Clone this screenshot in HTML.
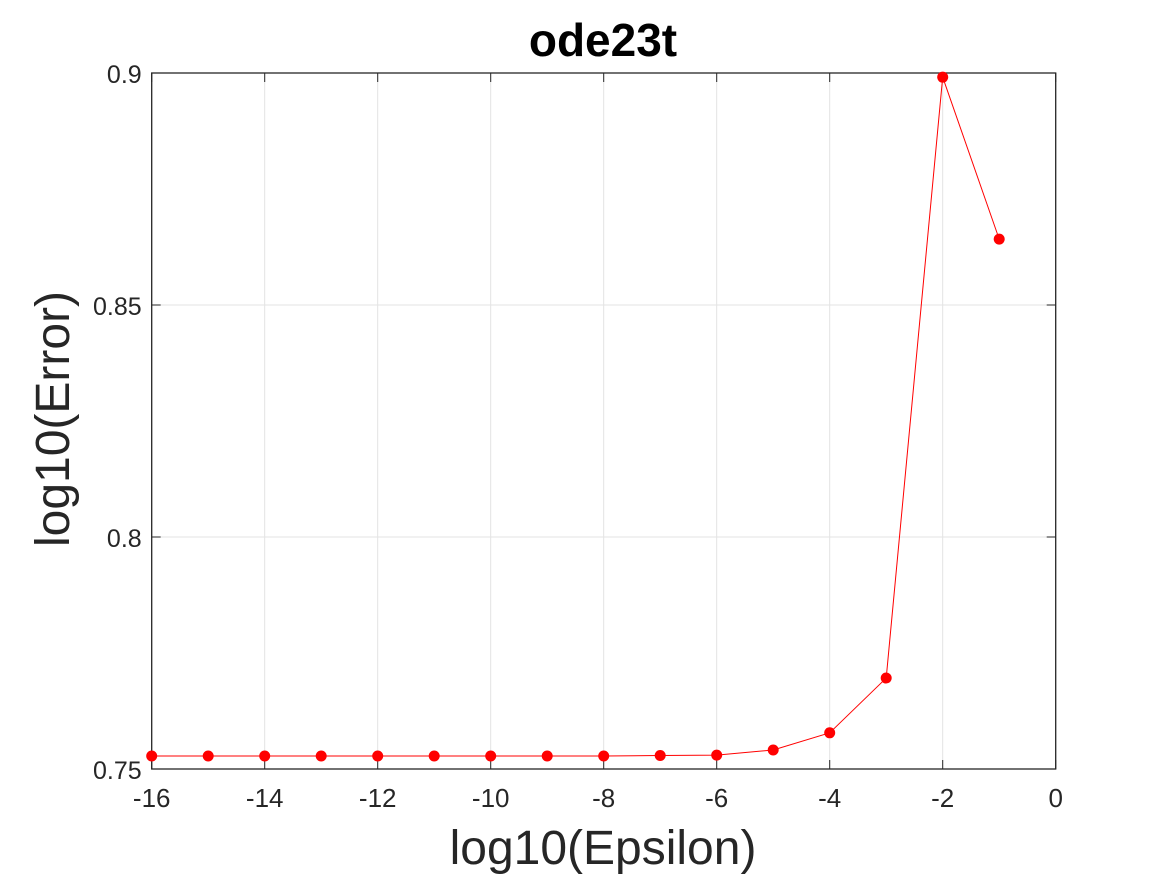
<!DOCTYPE html>
<html><head><meta charset="utf-8"><style>
body{margin:0;background:#fff;}
svg{display:block;font-family:"Liberation Sans",Helvetica,Arial,sans-serif;}
</style></head><body>
<svg id="c" width="1167" height="875"></svg>
<script>
const xVals=[-16,-15,-14,-13,-12,-11,-10,-9,-8,-7,-6,-5,-4,-3,-2,-1];
const yVals=[0.7528,0.7528,0.7528,0.7528,0.7528,0.7528,0.7528,0.7528,0.7528,0.7529,0.7530,0.7541,0.7578,0.7696,0.8991,0.8642];
const xTicks=[-16,-14,-12,-10,-8,-6,-4,-2,0];
const yTicks=[0.75,0.8,0.85,0.9];
const yTickLabels=["0.75","0.8","0.85","0.9"];
const L=151.7,R=1055.7,T=73,B=769;
const sx=v=>L+(v+16)/16*(R-L);
const sy=v=>B-(v-0.75)/0.15*(B-T);
const svg=document.getElementById('c');
const NS='http://www.w3.org/2000/svg';
function mk(t,a,txt){const e=document.createElementNS(NS,t);for(const k in a)e.setAttribute(k,a[k]);if(txt!==undefined)e.textContent=txt;svg.appendChild(e);return e;}
let e;
e=mk('rect',{x:L,y:T,width:R-L,height:B-T,fill:'#fff'});


xTicks.forEach(v=>{
 e=mk('line',{x1:sx(v),x2:sx(v),y1:T,y2:B,stroke:'#e3e3e3','stroke-width':1});
 
 
 mk('line',{x1:sx(v),x2:sx(v),y1:B,y2:B-9,stroke:'#262626'});
 mk('line',{x1:sx(v),x2:sx(v),y1:T,y2:T+9,stroke:'#262626'});
 e=mk('text',{x:sx(v),y:B+38,'text-anchor':'middle','font-size':26,fill:'#262626'},String(v));
 
 
});
yTicks.forEach((v,i)=>{
 e=mk('line',{x1:L,x2:R,y1:sy(v),y2:sy(v),stroke:'#e3e3e3','stroke-width':1});
 
 
 mk('line',{x1:L,x2:L+9,y1:sy(v),y2:sy(v),stroke:'#262626'});
 mk('line',{x1:R,x2:R-9,y1:sy(v),y2:sy(v),stroke:'#262626'});
 e=mk('text',{x:L-10,y:sy(v)+10,'text-anchor':'end','font-size':25,fill:'#262626'},yTickLabels[i]);
 
 
});
e=mk('rect',{x:L,y:T,width:R-L,height:B-T,fill:'none',stroke:'#262626','stroke-width':1.3});


e=mk('polyline',{points:xVals.map((x,i)=>sx(x)+','+sy(yVals[i])).join(' '),fill:'none',stroke:'#ff0000','stroke-width':1});


xVals.forEach((x,i)=>{
 e=mk('circle',{cx:sx(x),cy:sy(yVals[i]),r:5.5,fill:'#ff0000'});
 
 
});
e=mk('text',{x:603,y:56,'text-anchor':'middle','font-size':46,'font-weight':'bold',fill:'#000'},'ode23t');


e=mk('text',{x:603,y:864,'text-anchor':'middle','font-size':48,fill:'#262626'},'log10(Epsilon)');


e=mk('text',{x:0,y:0,'text-anchor':'middle','font-size':48,fill:'#262626',transform:'translate(69,419) rotate(-90)'},'log10(Error)');


</script>
</body></html>
